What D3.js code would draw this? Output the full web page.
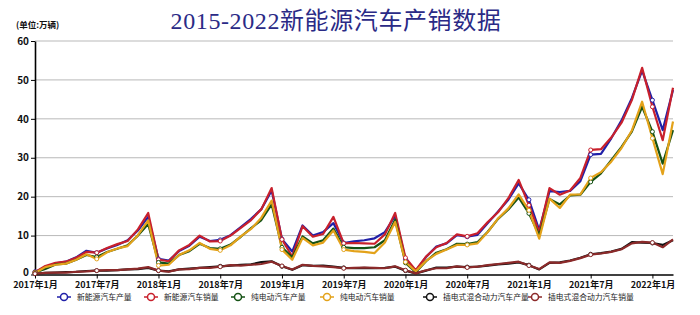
<!DOCTYPE html>
<html><head><meta charset="utf-8">
<script src="https://cdn.jsdelivr.net/npm/d3@7"></script>
<style>body{margin:0;background:#fff;overflow:hidden}</style>
</head><body><svg id="c" width="700" height="315"></svg>
<script>
// ---- data ----
const years = [2017, 2018, 2019, 2020, 2021, 2022];
const categories = [];
years.forEach(y => { for (let m = 1; m <= 12; m++) { if (y === 2022 && m > 3) break; categories.push(y + "年" + m + "月"); } });
const tickLabels = ["2017年1月","2017年7月","2018年1月","2018年7月","2019年1月","2019年7月","2020年1月","2020年7月","2021年1月","2021年7月","2022年1月"];
const yTicks = [0, 10, 20, 30, 40, 50, 60];

const nevProd = [0.7,1.8,2.9,3.3,4.4,6.1,5.6,6.7,7.6,8.8,11.3,14.8,
  4.0,3.6,6.0,7.4,9.7,8.6,8.9,10.1,12.2,14.3,16.8,21.6,
  9.1,5.9,12.6,10.0,10.9,13.2,8.1,8.5,8.8,9.3,10.9,15.1,
  3.9,0.9,4.5,7.2,8.0,10.1,9.7,10.2,13.2,16.2,19.2,23.4,
  19.2,11.4,21.4,21.2,21.5,24.0,30.8,31.0,35.0,39.6,45.3,52.4,
  44.8,37.1,47.4];
const nevSales = [0.6,2.2,3.0,3.3,4.3,5.8,5.6,6.8,7.8,8.6,11.6,15.8,
  3.8,3.4,6.2,7.6,10.0,8.5,8.6,10.0,12.0,14.0,16.8,22.2,
  9.0,4.6,12.4,9.7,10.4,14.8,8.0,8.1,8.0,7.9,10.3,15.8,
  4.3,1.1,4.6,7.0,8.1,10.3,9.8,10.6,13.5,16.0,19.6,24.3,
  17.8,10.9,22.2,20.5,21.6,24.8,32.0,32.2,35.2,39.0,44.8,53.1,
  43.1,34.5,48.0];
const bevProd = [0.5,1.4,2.6,2.8,3.8,5.0,4.5,5.8,6.6,7.5,10.0,13.0,
  3.1,2.8,5.0,6.0,7.9,6.8,6.6,7.7,9.7,11.9,14.0,18.0,
  7.0,4.4,9.8,8.0,8.8,11.8,7.0,6.8,6.8,7.0,8.8,14.1,
  3.0,0.6,3.4,5.6,6.5,7.9,7.8,8.3,11.0,14.3,16.7,19.8,
  15.7,10.1,19.4,18.0,20.3,20.5,23.8,26.0,29.4,32.8,36.7,43.1,
  36.7,28.5,37.1];
const bevSales = [0.4,1.9,2.5,2.8,3.8,5.2,4.0,5.7,6.7,7.3,10.1,13.9,
  2.3,2.5,5.0,6.2,8.1,6.6,6.2,7.5,9.8,11.7,14.6,19.0,
  6.4,3.8,9.4,7.5,8.2,11.3,6.4,6.0,5.8,5.5,8.2,13.5,
  3.2,0.8,3.5,5.3,6.4,7.6,7.6,8.0,10.9,14.4,17.0,20.6,
  16.5,9.2,19.5,17.1,20.5,20.6,24.8,26.3,29.0,32.5,37.0,44.4,
  35.0,25.8,39.3];
const phevProd = [0.2,0.4,0.5,0.6,0.7,0.9,1.0,1.0,1.1,1.3,1.4,1.7,
  1.0,0.8,1.3,1.5,1.7,1.9,2.1,2.3,2.5,2.6,3.2,3.4,
  2.1,1.2,2.4,2.2,2.3,2.0,1.7,1.6,1.7,1.6,1.7,2.0,
  1.0,0.3,1.0,1.8,1.8,2.0,1.9,2.0,2.3,2.6,2.8,3.1,
  2.4,1.3,3.0,3.1,3.6,4.3,5.2,5.5,5.9,6.6,8.3,8.2,
  8.1,7.6,8.8];
const phevSales = [0.2,0.4,0.5,0.5,0.7,0.8,1.0,1.1,1.1,1.3,1.5,1.9,
  1.0,0.7,1.3,1.4,1.7,1.7,2.0,2.4,2.3,2.5,2.7,3.3,
  2.2,1.3,2.5,2.2,2.1,1.9,1.6,1.7,1.8,1.7,1.6,2.1,
  1.1,0.3,1.1,1.6,1.6,2.1,1.8,2.0,2.4,2.7,3.0,3.3,
  2.3,1.4,3.1,3.0,3.5,4.2,5.1,5.4,5.8,6.5,8.0,8.4,
  8.2,7.0,9.0];

const seriesNames = ["新能源汽车产量","新能源汽车销量","纯电动汽车产量","纯电动汽车销量","插电式混合动力汽车产量","插电式混合动力汽车销量"];
const seriesData = [nevProd, nevSales, bevProd, bevSales, phevProd, phevSales];
const seriesColors = ["#2020a8","#c8202c","#155215","#e3a21a","#111111","#8c2a2a"];

// ---- layout ----
const svg = d3.select("#c");
const L = 35, R = 673, T = 41, B = 274.5;
const x = d3.scalePoint().domain(categories).range([L, R]);
const y = d3.scaleLinear().domain([0, 60]).range([B, T]);

svg.append("text").attr("x", 336).attr("y", 29).attr("text-anchor", "middle")
  .attr("font-family", "'Liberation Serif','DejaVu Serif','Noto Sans CJK SC'")
  .attr("font-size", 24).attr("letter-spacing", 0.6).attr("fill", "#2a2a86")
  .text("2015-2022新能源汽车产销数据");

svg.append("text").attr("x", 16).attr("y", 28)
  .attr("font-family", "'Noto Sans CJK SC'").attr("font-weight", "bold")
  .attr("font-size", 8.5).attr("fill", "#111").text("(单位:万辆)");

// grid
svg.append("g").selectAll("line").data(yTicks.filter(d => d > 0)).join("line")
  .attr("x1", L).attr("x2", R).attr("y1", d => y(d)).attr("y2", d => y(d))
  .attr("stroke", "#b9b9b9").attr("stroke-width", 1);

// y axis
const yAxis = d3.axisLeft(y).tickValues(yTicks).tickSize(4).tickPadding(2).tickSizeOuter(0);
const gy = svg.append("g").attr("transform", `translate(${L},0)`).call(yAxis);
gy.select(".domain").attr("stroke", "#000").attr("stroke-width", 1.6);
gy.selectAll(".tick line").attr("stroke", "#000");
gy.selectAll("text").attr("font-family", "'Noto Sans CJK SC'").attr("font-weight", "bold")
  .attr("font-size", 10).attr("fill", "#111");
gy.selectAll(".tick").filter(d => d === 0).select("text").attr("dy", "0.1em");

// x axis
const xAxis = d3.axisBottom(x).tickValues(tickLabels).tickSize(4).tickPadding(3).tickSizeOuter(0);
const gx = svg.append("g").attr("transform", `translate(0,${B})`).call(xAxis);
gx.select(".domain").attr("stroke", "#000").attr("stroke-width", 1.4);
gx.selectAll(".tick line").attr("stroke", "#000");
gx.selectAll("text").attr("font-family", "'Noto Sans CJK SC'").attr("font-weight", "bold")
  .attr("font-size", 9).attr("fill", "#111");

// lines
const line = d3.line().x((d, i) => x(categories[i])).y(d => y(d));
seriesData.forEach((s, k) => {
  svg.append("path").datum(s).attr("d", line).attr("fill", "none")
    .attr("stroke", seriesColors[k]).attr("stroke-width", 2.2).attr("stroke-linejoin", "round");
});
seriesData.forEach((s, k) => {
  svg.append("g").selectAll("circle").data(s.map((v, i) => ({ v, i })).filter(d => d.i % 6 === 0)).join("circle")
    .attr("cx", d => x(categories[d.i])).attr("cy", d => y(d.v)).attr("r", 2)
    .attr("fill", "#fff").attr("stroke", seriesColors[k]).attr("stroke-width", 1);
});

// legend
const legendX = [64, 151, 238, 327, 430, 535];
const lg = svg.append("g");
seriesNames.forEach((n, k) => {
  const g = lg.append("g").attr("transform", `translate(${legendX[k]},297)`);
  g.append("line").attr("x1", -7).attr("x2", 7).attr("stroke", seriesColors[k]).attr("stroke-width", 1.5);
  g.append("circle").attr("r", 3.5).attr("fill", "#fff").attr("stroke", seriesColors[k]).attr("stroke-width", 1.5);
  g.append("text").attr("x", 13).attr("y", 3).attr("font-family", "'Noto Sans CJK SC'")
    .attr("font-size", 7.8).attr("fill", "#222").text(n);
});
</script></body></html>
